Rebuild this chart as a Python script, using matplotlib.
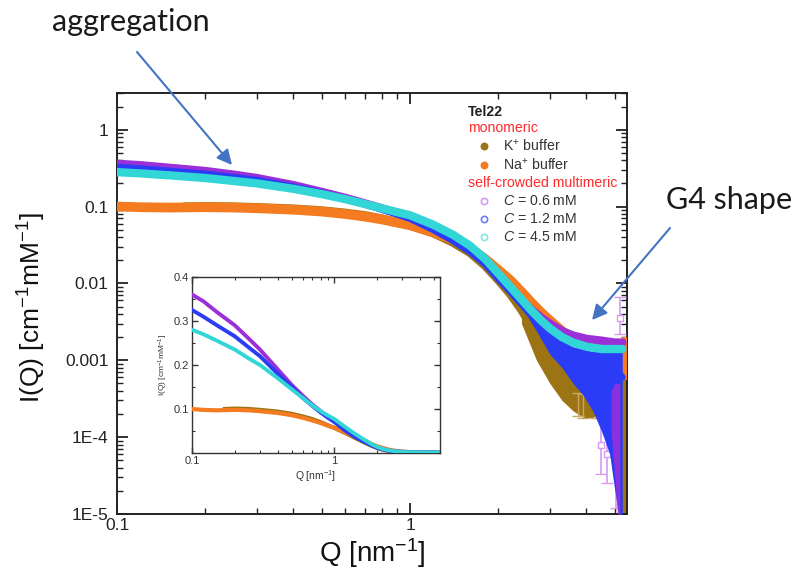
import matplotlib
matplotlib.use('Agg')
import matplotlib.pyplot as plt
from matplotlib.lines import Line2D
from matplotlib.ticker import LogLocator, NullFormatter, MultipleLocator

plt.rcParams['font.family'] = ['Liberation Sans', 'DejaVu Sans']
plt.rcParams['mathtext.fontset'] = 'custom'
plt.rcParams['mathtext.rm'] = 'Liberation Sans'
plt.rcParams['mathtext.it'] = 'Liberation Sans:italic'
plt.rcParams['mathtext.bf'] = 'Liberation Sans:bold'

# ---------------- data ----------------
q = [0.10, 0.12, 0.15, 0.20, 0.25, 0.30, 0.40, 0.50, 0.60, 0.70, 0.80, 0.90,
     1.0, 1.2, 1.4, 1.6, 1.8, 2.0, 2.2, 2.4, 2.6, 2.8, 3.0, 3.3, 3.6, 4.0,
     4.5, 5.0, 5.3]
i_na = [0.100, 0.098, 0.097, 0.098, 0.097, 0.095, 0.091, 0.086, 0.080, 0.074,
        0.068, 0.062, 0.057, 0.046, 0.037, 0.029, 0.021, 0.015, 0.011, 0.0078,
        0.0056, 0.0042, 0.0033, 0.0024, 0.0019, 0.0016, 0.0014, 0.0013, 0.0013]
i_06 = [0.36, 0.345, 0.32, 0.29, 0.26, 0.235, 0.19, 0.155, 0.13, 0.11, 0.095,
        0.082, 0.072, 0.052, 0.038, 0.027, 0.019, 0.0125, 0.0085, 0.0060,
        0.0045, 0.0036, 0.0030, 0.0024, 0.0021, 0.0019, 0.0018, 0.0017, 0.0017]
i_12 = [0.325, 0.31, 0.29, 0.265, 0.24, 0.22, 0.18, 0.15, 0.125, 0.107, 0.092,
        0.080, 0.070, 0.050, 0.036, 0.026, 0.018, 0.0115, 0.0078, 0.0054,
        0.0038, 0.0028, 0.0021, 0.0015, 0.0012, 0.0010, 0.0009, 0.0008, 0.0006]
i_45 = [0.28, 0.27, 0.255, 0.235, 0.215, 0.20, 0.17, 0.145, 0.125, 0.108,
        0.095, 0.085, 0.077, 0.058, 0.043, 0.031, 0.021, 0.0135, 0.0090, 0.0062,
        0.0044, 0.0033, 0.0026, 0.0020, 0.0017, 0.0015, 0.0014, 0.0014, 0.0014]

q_k = [0.17, 0.20, 0.25, 0.30, 0.40, 0.50, 0.60, 0.70, 0.80, 0.90, 1.0, 1.2,
       1.4, 1.6, 1.8, 2.0, 2.2, 2.4, 2.6, 2.8, 3.0, 3.3, 3.6, 4.0, 4.5, 5.0, 5.4]
i_k = [0.100, 0.101, 0.100, 0.098, 0.094, 0.089, 0.083, 0.077, 0.070, 0.063,
       0.057, 0.045, 0.034, 0.025, 0.017, 0.011, 0.0072, 0.0045, 0.0027,
       0.0017, 0.0011, 0.0007, 0.00045, 0.00035, 0.0003, 0.00025, 0.0002]

# noisy high-Q spread of the data
q_k_spread = [2.4, 2.7, 3.0, 3.3, 3.6, 3.9, 4.2, 4.4]
k_spread_lo = [0.0030, 0.0010, 0.0005, 0.0003, 0.00022, 0.00018, 0.00018, 0.0002]
k_spread_hi = [0.0050, 0.0025, 0.0014, 0.0009, 0.0007, 0.0005, 0.0004, 0.0004]
q_b_spread = [2.4, 2.7, 3.0, 3.3, 3.6, 3.9, 4.2, 4.5, 4.8, 5.0, 5.15, 5.3]
b_spread_lo = [0.0050, 0.0024, 0.0012, 0.0008, 0.0005, 0.00035, 0.00022,
               0.00012, 6e-5, 2e-5, 1e-5, 1e-5]
b_spread_hi = [0.0058, 0.0034, 0.0024, 0.0018, 0.0015, 0.0014, 0.0013,
               0.0013, 0.0013, 0.0013, 0.0013, 0.0013]
q_v_spread = [4.85, 5.0, 5.1, 5.2]
v_spread_lo = [1.2e-4, 3e-5, 1e-5, 1e-5]
v_spread_hi = [4e-4, 5e-4, 5e-4, 5e-4]
q_edge = [5.3, 5.5]
na_edge_lo = [5.5e-4, 5.5e-4]
na_edge_hi = [0.0020, 0.0020]
k_edge_lo = [1e-5, 1e-5]
k_edge_hi = [5.5e-4, 5.5e-4]

# error bars
q_k_err = [3.75, 3.9, 4.3]
i_k_err = [2.7e-4, 2.6e-4, 2.2e-4]
k_err_lo = [0.8e-4, 0.8e-4, 0.4e-4]
k_err_hi = [1.0e-4, 1.0e-4, 0.6e-4]
q_v_err = [4.5, 4.7, 5.05, 5.2]
i_v_err = [8e-5, 6e-5, 4e-5, 0.0036]
v_err_lo = [4.7e-5, 3.5e-5, 2.8e-5, 0.0014]
v_err_hi = [1.6e-4, 1.0e-4, 1.2e-4, 0.0030]

x_ticks = [0.1, 1]
x_tick_labels = ['0.1', '1']
y_ticks = [1e-5, 1e-4, 1e-3, 1e-2, 1e-1, 1]
y_tick_labels = ['1E-5', '1E-4', '0.001', '0.01', '0.1', '1']
inset_y_ticks = [0.1, 0.2, 0.3, 0.4]
inset_y_labels = ['0.1', '0.2', '0.3', '0.4']

C_K = '#9C7414'
C_NA = '#F47B20'
C_06 = '#9B30D9'
C_06L = '#D79AF2'
C_12 = '#2A3CF5'
C_45 = '#33D6D6'
C_RED = '#FF2A2A'
C_ARROW = '#4472C4'

W, H = 798, 577
fig = plt.figure(figsize=(W / 100, H / 100), dpi=100)

def fx(px):
    return px / W

def fy(py):
    return 1 - py / H

# ---------------- main axes ----------------
ax = fig.add_axes([fx(117), fy(514), (627 - 117) / W, (514 - 93) / H])
ax.set_xscale('log')
ax.set_yscale('log')

ax.plot(q_k, i_k, color=C_K, lw=6, solid_capstyle='round', zorder=2)
ax.fill_between(q_k_spread, k_spread_lo, k_spread_hi, color=C_K, lw=0, zorder=2)
ax.fill_between(q_edge, k_edge_lo, k_edge_hi, color=C_K, lw=0, zorder=2)
ax.errorbar(q_k_err, i_k_err, yerr=[k_err_lo, k_err_hi], fmt='none',
            ecolor='#C8A860', elinewidth=1, capsize=4, zorder=2)
ax.plot(q, i_na, color=C_NA, lw=7, solid_capstyle='round', zorder=3)
ax.fill_between(q_edge, na_edge_lo, na_edge_hi, color=C_NA, lw=0, zorder=3)
ax.plot(q, i_06, color=C_06, lw=6, solid_capstyle='round', zorder=4)
ax.errorbar(q_v_err, i_v_err, yerr=[v_err_lo, v_err_hi], fmt='s', ms=5,
            mfc='white', mec=C_06L, ecolor=C_06L, elinewidth=1.2, capsize=4,
            zorder=4)
ax.fill_between(q_b_spread, b_spread_lo, b_spread_hi, color=C_12, lw=0, zorder=5)
ax.fill_between(q_v_spread, v_spread_lo, v_spread_hi, color=C_06, lw=0,
                alpha=0.85, zorder=5)
ax.plot(q, i_12, color=C_12, lw=5, solid_capstyle='round', zorder=6)
ax.plot(q, i_45, color=C_45, lw=6, solid_capstyle='round', zorder=7)

ax.set_xlim(0.1, 5.5)
ax.set_ylim(1e-5, 3.0)
ax.set_xticks(x_ticks)
ax.set_xticklabels(x_tick_labels)
ax.xaxis.set_minor_locator(LogLocator(base=10, subs=range(2, 10), numticks=20))
ax.xaxis.set_minor_formatter(NullFormatter())
ax.set_yticks(y_ticks)
ax.set_yticklabels(y_tick_labels)
ax.yaxis.set_minor_locator(LogLocator(base=10, subs=range(2, 10), numticks=20))
ax.yaxis.set_minor_formatter(NullFormatter())
ax.tick_params(which='both', direction='in', top=True, right=True,
               labelsize=12.5, colors='#222222')
ax.tick_params(which='major', length=8, width=1.3)
ax.tick_params(which='minor', length=4, width=1.0)
ax.tick_params(axis='y', which='major', pad=6)
ax.tick_params(axis='x', which='major', pad=3)
for s in ax.spines.values():
    s.set_linewidth(1.4)
    s.set_color('#222222')
ax.set_xlabel('Q [nm$^{-1}$]', fontsize=20, labelpad=2, color='#111111')
ax.set_ylabel('I(Q) [cm$^{-1}$mM$^{-1}$]', fontsize=19, color='#111111')
ax.yaxis.set_label_coords(-0.135, 0.489)

# ---------------- inset ----------------
axin = fig.add_axes([fx(192), fy(453), (440 - 192) / W, (453 - 277) / H])
axin.set_xscale('log')
axin.plot(q_k, i_k, color=C_K, lw=3, zorder=2)
axin.plot(q, i_na, color=C_NA, lw=3, zorder=3)
axin.plot(q, i_06, color=C_06, lw=2.8, zorder=4)
axin.plot(q, i_12, color=C_12, lw=2.8, zorder=5)
axin.plot(q, i_45, color=C_45, lw=2.8, zorder=6)
axin.set_xlim(0.1, 5.5)
axin.set_ylim(0, 0.4)
axin.set_xticks(x_ticks)
axin.set_xticklabels(x_tick_labels)
axin.xaxis.set_minor_locator(LogLocator(base=10, subs=range(2, 10), numticks=20))
axin.xaxis.set_minor_formatter(NullFormatter())
axin.set_yticks(inset_y_ticks)
axin.set_yticklabels(inset_y_labels)
axin.yaxis.set_minor_locator(MultipleLocator(0.05))
axin.tick_params(which='both', direction='in', top=True, right=True,
                 labelsize=8, colors='#333333', pad=2)
axin.tick_params(which='major', length=4, width=1)
axin.tick_params(which='minor', length=2, width=0.8)
for s in axin.spines.values():
    s.set_linewidth(1.0)
    s.set_color('#333333')
axin.set_xlabel('Q [nm$^{-1}$]', fontsize=7.5, labelpad=2, color='#333333')
axin.set_ylabel('I(Q) [cm$^{-1}$mM$^{-1}$]', fontsize=6, labelpad=3,
                color='#333333')

# ---------------- legend (drawn by hand) ----------------
lx_head, lx_mark, lx_text = 468, 484, 503
fs_leg = 10.2
fig.text(fx(lx_head), fy(112), 'Tel22', fontsize=fs_leg, fontweight='bold',
         va='center', ha='left', color='#222222')
fig.text(fx(lx_head), fy(128), 'monomeric', fontsize=fs_leg, va='center',
         ha='left', color=C_RED)
fig.text(fx(lx_head), fy(183), 'self-crowded multimeric', fontsize=fs_leg,
         va='center', ha='left', color=C_RED)
legend_rows = [
    (146, 'K$^{+}$ buffer', C_K, True),
    (165, 'Na$^{+}$ buffer', C_NA, True),
    (201, '$C$ = 0.6 mM', C_06L, False),
    (219, '$C$ = 1.2 mM', '#6C7CF5', False),
    (237, '$C$ = 4.5 mM', '#7FE6E6', False),
]
for yy, label, col, filled in legend_rows:
    fig.add_artist(Line2D([fx(lx_mark)], [fy(yy)], marker='o', ms=4.5,
                          mfc=col if filled else 'white', mec=col, mew=1.2,
                          ls='none', transform=fig.transFigure))
    fig.text(fx(lx_text), fy(yy), label, fontsize=fs_leg, va='center',
             ha='left', color='#333333')

# ---------------- annotations ----------------
fig.text(fx(52), fy(22), 'aggregation', fontsize=22, family=['Lato', 'DejaVu Sans'],
         va='center', ha='left', color='#1a1a1a')
fig.text(fx(666), fy(200), 'G4 shape', fontsize=22, family=['Lato', 'DejaVu Sans'],
         va='center', ha='left', color='#1a1a1a')
ax.annotate('', xy=(232, H - 165), xytext=(137, H - 52),
            xycoords='figure pixels', textcoords='figure pixels',
            arrowprops=dict(arrowstyle='-|>,head_length=0.9,head_width=0.45',
                            color=C_ARROW, lw=1.5, shrinkA=0, shrinkB=0),
            annotation_clip=False)
ax.annotate('', xy=(592, H - 320), xytext=(670, H - 228),
            xycoords='figure pixels', textcoords='figure pixels',
            arrowprops=dict(arrowstyle='-|>,head_length=0.9,head_width=0.45',
                            color=C_ARROW, lw=1.5, shrinkA=0, shrinkB=0),
            annotation_clip=False)

fig.savefig('out.png', dpi=100)
